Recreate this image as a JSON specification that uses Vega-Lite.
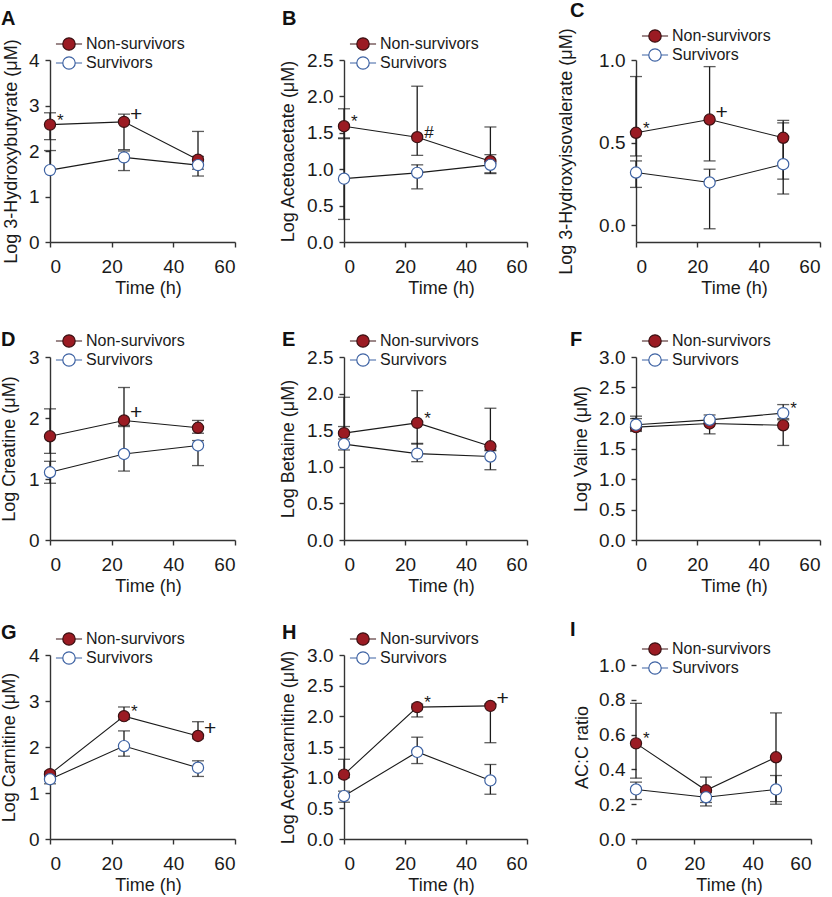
{
  "$schema": "https://vega.github.io/schema/vega-lite/v6.json",
  "padding": {"left": 0, "top": 0, "right": 5, "bottom": 5},
  "columns": 3,
  "spacing": {"row": 115, "column": 109},
  "bounds": "flush",
  "resolve": {"scale": {"fill": "independent", "stroke": "independent"}},
  "datasets": {
    "d": [
      {"p":"A","g":"Non-survivors","t":0,"v":2.58,"lo":2.25,"hi":2.84,"s":"*"},
      {"p":"A","g":"Non-survivors","t":24,"v":2.64,"lo":2.03,"hi":2.81,"s":"+"},
      {"p":"A","g":"Non-survivors","t":48,"v":1.81,"lo":1.60,"hi":2.43},
      {"p":"A","g":"Survivors","t":0,"v":1.58,"lo":1.58,"hi":2.01},
      {"p":"A","g":"Survivors","t":24,"v":1.86,"lo":1.57,"hi":2.00},
      {"p":"A","g":"Survivors","t":48,"v":1.69,"lo":1.45,"hi":1.88},
      {"p":"B","g":"Non-survivors","t":0,"v":1.59,"lo":1.43,"hi":1.83,"s":"*"},
      {"p":"B","g":"Non-survivors","t":24,"v":1.44,"lo":1.19,"hi":2.14,"s":"#"},
      {"p":"B","g":"Non-survivors","t":48,"v":1.11,"lo":0.94,"hi":1.58},
      {"p":"B","g":"Survivors","t":0,"v":0.87,"lo":0.31,"hi":1.42},
      {"p":"B","g":"Survivors","t":24,"v":0.95,"lo":0.73,"hi":1.06},
      {"p":"B","g":"Survivors","t":48,"v":1.06,"lo":0.95,"hi":1.20},
      {"p":"C","g":"Non-survivors","t":0,"v":0.56,"lo":0.42,"hi":0.90,"s":"*"},
      {"p":"C","g":"Non-survivors","t":24,"v":0.64,"lo":0.39,"hi":0.96,"s":"+"},
      {"p":"C","g":"Non-survivors","t":48,"v":0.53,"lo":0.28,"hi":0.635},
      {"p":"C","g":"Survivors","t":0,"v":0.32,"lo":0.23,"hi":0.39},
      {"p":"C","g":"Survivors","t":24,"v":0.26,"lo":-0.02,"hi":0.34},
      {"p":"C","g":"Survivors","t":48,"v":0.37,"lo":0.19,"hi":0.62},
      {"p":"D","g":"Non-survivors","t":0,"v":1.70,"lo":1.42,"hi":2.15},
      {"p":"D","g":"Non-survivors","t":24,"v":1.96,"lo":1.86,"hi":2.50,"s":"+"},
      {"p":"D","g":"Non-survivors","t":48,"v":1.84,"lo":1.75,"hi":1.96},
      {"p":"D","g":"Survivors","t":0,"v":1.11,"lo":0.93,"hi":1.29},
      {"p":"D","g":"Survivors","t":24,"v":1.41,"lo":1.13,"hi":1.88},
      {"p":"D","g":"Survivors","t":48,"v":1.55,"lo":1.22,"hi":1.63},
      {"p":"E","g":"Non-survivors","t":0,"v":1.46,"lo":1.38,"hi":1.95},
      {"p":"E","g":"Non-survivors","t":24,"v":1.60,"lo":1.31,"hi":2.04,"s":"*"},
      {"p":"E","g":"Non-survivors","t":48,"v":1.28,"lo":1.22,"hi":1.80},
      {"p":"E","g":"Survivors","t":0,"v":1.31,"lo":1.23,"hi":1.55},
      {"p":"E","g":"Survivors","t":24,"v":1.18,"lo":1.07,"hi":1.32},
      {"p":"E","g":"Survivors","t":48,"v":1.14,"lo":0.96,"hi":1.23},
      {"p":"F","g":"Non-survivors","t":0,"v":1.85,"lo":1.78,"hi":1.99},
      {"p":"F","g":"Non-survivors","t":24,"v":1.91,"lo":1.74,"hi":1.97},
      {"p":"F","g":"Non-survivors","t":48,"v":1.88,"lo":1.55,"hi":1.97},
      {"p":"F","g":"Survivors","t":0,"v":1.89,"lo":1.80,"hi":2.03},
      {"p":"F","g":"Survivors","t":24,"v":1.97,"lo":1.90,"hi":2.05},
      {"p":"F","g":"Survivors","t":48,"v":2.08,"lo":1.99,"hi":2.22,"s":"*"},
      {"p":"G","g":"Non-survivors","t":0,"v":1.41,"lo":1.35,"hi":1.47},
      {"p":"G","g":"Non-survivors","t":24,"v":2.67,"lo":2.60,"hi":2.87,"s":"*"},
      {"p":"G","g":"Non-survivors","t":48,"v":2.24,"lo":2.18,"hi":2.55,"s":"+"},
      {"p":"G","g":"Survivors","t":0,"v":1.30,"lo":1.20,"hi":1.36},
      {"p":"G","g":"Survivors","t":24,"v":2.02,"lo":1.80,"hi":2.35},
      {"p":"G","g":"Survivors","t":48,"v":1.55,"lo":1.36,"hi":1.70},
      {"p":"H","g":"Non-survivors","t":0,"v":1.05,"lo":1.00,"hi":1.30},
      {"p":"H","g":"Non-survivors","t":24,"v":2.15,"lo":1.99,"hi":2.20,"s":"*"},
      {"p":"H","g":"Non-survivors","t":48,"v":2.17,"lo":1.57,"hi":2.20,"s":"+"},
      {"p":"H","g":"Survivors","t":0,"v":0.70,"lo":0.60,"hi":0.78},
      {"p":"H","g":"Survivors","t":24,"v":1.42,"lo":1.23,"hi":1.66},
      {"p":"H","g":"Survivors","t":48,"v":0.955,"lo":0.73,"hi":1.215},
      {"p":"I","g":"Non-survivors","t":0,"v":0.55,"lo":0.35,"hi":0.78,"s":"*"},
      {"p":"I","g":"Non-survivors","t":24,"v":0.28,"lo":0.21,"hi":0.356},
      {"p":"I","g":"Non-survivors","t":48,"v":0.47,"lo":0.20,"hi":0.725},
      {"p":"I","g":"Survivors","t":0,"v":0.285,"lo":0.227,"hi":0.327},
      {"p":"I","g":"Survivors","t":24,"v":0.24,"lo":0.19,"hi":0.27},
      {"p":"I","g":"Survivors","t":48,"v":0.285,"lo":0.215,"hi":0.365}
    ]
  },
  "concat": [
    {
      "width": 185, "height": 182,
      "title": {"text": "A", "dx": -49, "dy": -1.5},
      "data": {"name": "d"},
      "transform": [{"filter": "datum.p == 'A'"}],
      "encoding": {
        "x": {"field": "t", "type": "quantitative", "scale": {"domain": [0, 60], "nice": false, "padding": 0}, "axis": {"values": [0, 20, 40, 60], "labelOverlap": false, "title": "Time (h)", "titleX": 98}},
        "y": {"field": "v", "type": "quantitative", "scale": {"domain": [0, 4], "nice": false, "zero": false, "padding": 0}, "axis": {"values": [0, 1, 2, 3, 4], "labelOverlap": false, "format": "d", "title": "Log 3-Hydroxybutyrate (μM)", "titleX": -30}}
      },
      "layer": [
        {"mark": {"type": "rule", "color": "#1a1a1a", "strokeWidth": 1.3}, "encoding": {"y": {"field": "lo", "type": "quantitative", "axis": {"values": [0, 1, 2, 3, 4], "labelOverlap": false, "format": "d", "title": "Log 3-Hydroxybutyrate (μM)", "titleX": -30}}, "y2": {"field": "hi"}}},
        {"mark": {"type": "tick", "orient": "horizontal", "size": 12, "thickness": 1.3, "color": "#1a1a1a"}, "encoding": {"y": {"field": "lo", "type": "quantitative", "axis": {"values": [0, 1, 2, 3, 4], "labelOverlap": false, "format": "d", "title": "Log 3-Hydroxybutyrate (μM)", "titleX": -30}}}},
        {"mark": {"type": "tick", "orient": "horizontal", "size": 12, "thickness": 1.3, "color": "#1a1a1a"}, "encoding": {"y": {"field": "hi", "type": "quantitative", "axis": {"values": [0, 1, 2, 3, 4], "labelOverlap": false, "format": "d", "title": "Log 3-Hydroxybutyrate (μM)", "titleX": -30}}}},
        {"mark": {"type": "line", "color": "#1a1a1a", "strokeWidth": 1.1}, "encoding": {"detail": {"field": "g"}}},
        {"mark": {"type": "point", "filled": true, "size": 125, "strokeWidth": 1.2, "opacity": 1}, "encoding": {
          "fill": {"field": "g", "type": "nominal", "scale": {"domain": ["Non-survivors", "Survivors"], "range": ["#9b1b23", "#ffffff"]}, "legend": {"orient": "none", "legendX": 9, "legendY": -26, "title": null, "symbolType": "M-1.45,0H-0.69M0.69,0H1.45M-0.69,0A0.69,0.69,0,1,0,0.69,0A0.69,0.69,0,1,0,-0.69,0Z", "symbolSize": 324}},
          "stroke": {"field": "g", "type": "nominal", "scale": {"domain": ["Non-survivors", "Survivors"], "range": ["#3b1214", "#3d62a3"]}, "legend": {"orient": "none", "legendX": 9, "legendY": -26, "title": null, "symbolType": "M-1.45,0H-0.69M0.69,0H1.45M-0.69,0A0.69,0.69,0,1,0,0.69,0A0.69,0.69,0,1,0,-0.69,0Z", "symbolSize": 324}}}},
        {"transform": [{"filter": "datum.s == '*'"}], "mark": {"type": "text", "align": "left", "baseline": "middle", "dx": 7, "dy": -4, "fontSize": 17, "fill": "#1a1a1a"}, "encoding": {"text": {"field": "s"}}},
        {"transform": [{"filter": "datum.s == '+'"}], "mark": {"type": "text", "align": "left", "baseline": "middle", "dx": 6, "dy": -7, "fontSize": 21, "fill": "#1a1a1a"}, "encoding": {"text": {"field": "s"}}}
      ]
    },
    {
      "width": 183, "height": 182,
      "title": {"text": "B", "dx": -62, "dy": -1.5},
      "data": {"name": "d"},
      "transform": [{"filter": "datum.p == 'B'"}],
      "encoding": {
        "x": {"field": "t", "type": "quantitative", "scale": {"domain": [0, 60], "nice": false, "padding": 0}, "axis": {"values": [0, 20, 40, 60], "labelOverlap": false, "title": "Time (h)", "titleX": 97}},
        "y": {"field": "v", "type": "quantitative", "scale": {"domain": [0, 2.5], "nice": false, "zero": false, "padding": 0}, "axis": {"values": [0, 0.5, 1, 1.5, 2, 2.5], "labelOverlap": false, "format": ".1f", "title": "Log Acetoacetate (μM)", "titleX": -47}}
      },
      "layer": [
        {"mark": {"type": "rule", "color": "#1a1a1a", "strokeWidth": 1.3}, "encoding": {"y": {"field": "lo", "type": "quantitative", "axis": {"values": [0, 0.5, 1, 1.5, 2, 2.5], "labelOverlap": false, "format": ".1f", "title": "Log Acetoacetate (μM)", "titleX": -47}}, "y2": {"field": "hi"}}},
        {"mark": {"type": "tick", "orient": "horizontal", "size": 12, "thickness": 1.3, "color": "#1a1a1a"}, "encoding": {"y": {"field": "lo", "type": "quantitative", "axis": {"values": [0, 0.5, 1, 1.5, 2, 2.5], "labelOverlap": false, "format": ".1f", "title": "Log Acetoacetate (μM)", "titleX": -47}}}},
        {"mark": {"type": "tick", "orient": "horizontal", "size": 12, "thickness": 1.3, "color": "#1a1a1a"}, "encoding": {"y": {"field": "hi", "type": "quantitative", "axis": {"values": [0, 0.5, 1, 1.5, 2, 2.5], "labelOverlap": false, "format": ".1f", "title": "Log Acetoacetate (μM)", "titleX": -47}}}},
        {"mark": {"type": "line", "color": "#1a1a1a", "strokeWidth": 1.1}, "encoding": {"detail": {"field": "g"}}},
        {"mark": {"type": "point", "filled": true, "size": 125, "strokeWidth": 1.2, "opacity": 1}, "encoding": {
          "fill": {"field": "g", "type": "nominal", "scale": {"domain": ["Non-survivors", "Survivors"], "range": ["#9b1b23", "#ffffff"]}, "legend": {"orient": "none", "legendX": 9, "legendY": -26, "title": null, "symbolType": "M-1.45,0H-0.69M0.69,0H1.45M-0.69,0A0.69,0.69,0,1,0,0.69,0A0.69,0.69,0,1,0,-0.69,0Z", "symbolSize": 324}},
          "stroke": {"field": "g", "type": "nominal", "scale": {"domain": ["Non-survivors", "Survivors"], "range": ["#3b1214", "#3d62a3"]}, "legend": {"orient": "none", "legendX": 9, "legendY": -26, "title": null, "symbolType": "M-1.45,0H-0.69M0.69,0H1.45M-0.69,0A0.69,0.69,0,1,0,0.69,0A0.69,0.69,0,1,0,-0.69,0Z", "symbolSize": 324}}}},
        {"transform": [{"filter": "datum.s == '*' || datum.s == '#'"}], "mark": {"type": "text", "align": "left", "baseline": "middle", "dx": 7, "dy": -4, "fontSize": 17, "fill": "#1a1a1a"}, "encoding": {"text": {"field": "s"}}},
        {"transform": [{"filter": "datum.s == '+'"}], "mark": {"type": "text", "align": "left", "baseline": "middle", "dx": 6, "dy": -7, "fontSize": 21, "fill": "#1a1a1a"}, "encoding": {"text": {"field": "s"}}}
      ]
    },
    {
      "width": 184, "height": 182,
      "title": {"text": "C", "dx": -66, "dy": -1.5},
      "data": {"name": "d"},
      "transform": [{"filter": "datum.p == 'C'"}],
      "encoding": {
        "x": {"field": "t", "type": "quantitative", "scale": {"domain": [0, 60], "nice": false, "padding": 0}, "axis": {"values": [0, 20, 40, 60], "labelOverlap": false, "title": "Time (h)", "titleX": 98}},
        "y": {"field": "v", "type": "quantitative", "scale": {"domain": [-0.1, 1.0], "nice": false, "zero": false, "padding": 0}, "axis": {"values": [0, 0.5, 1], "labelOverlap": false, "format": ".1f", "title": "Log 3-Hydroxyisovalerate (μM)", "titleX": -61}}
      },
      "layer": [
        {"mark": {"type": "rule", "color": "#1a1a1a", "strokeWidth": 1.3}, "encoding": {"y": {"field": "lo", "type": "quantitative", "axis": {"values": [0, 0.5, 1], "labelOverlap": false, "format": ".1f", "title": "Log 3-Hydroxyisovalerate (μM)", "titleX": -61}}, "y2": {"field": "hi"}}},
        {"mark": {"type": "tick", "orient": "horizontal", "size": 12, "thickness": 1.3, "color": "#1a1a1a"}, "encoding": {"y": {"field": "lo", "type": "quantitative", "axis": {"values": [0, 0.5, 1], "labelOverlap": false, "format": ".1f", "title": "Log 3-Hydroxyisovalerate (μM)", "titleX": -61}}}},
        {"mark": {"type": "tick", "orient": "horizontal", "size": 12, "thickness": 1.3, "color": "#1a1a1a"}, "encoding": {"y": {"field": "hi", "type": "quantitative", "axis": {"values": [0, 0.5, 1], "labelOverlap": false, "format": ".1f", "title": "Log 3-Hydroxyisovalerate (μM)", "titleX": -61}}}},
        {"mark": {"type": "line", "color": "#1a1a1a", "strokeWidth": 1.1}, "encoding": {"detail": {"field": "g"}}},
        {"mark": {"type": "point", "filled": true, "size": 125, "strokeWidth": 1.2, "opacity": 1}, "encoding": {
          "fill": {"field": "g", "type": "nominal", "scale": {"domain": ["Non-survivors", "Survivors"], "range": ["#9b1b23", "#ffffff"]}, "legend": {"orient": "none", "legendX": 9, "legendY": -34, "title": null, "symbolType": "M-1.45,0H-0.69M0.69,0H1.45M-0.69,0A0.69,0.69,0,1,0,0.69,0A0.69,0.69,0,1,0,-0.69,0Z", "symbolSize": 324}},
          "stroke": {"field": "g", "type": "nominal", "scale": {"domain": ["Non-survivors", "Survivors"], "range": ["#3b1214", "#3d62a3"]}, "legend": {"orient": "none", "legendX": 9, "legendY": -34, "title": null, "symbolType": "M-1.45,0H-0.69M0.69,0H1.45M-0.69,0A0.69,0.69,0,1,0,0.69,0A0.69,0.69,0,1,0,-0.69,0Z", "symbolSize": 324}}}},
        {"transform": [{"filter": "datum.s == '*'"}], "mark": {"type": "text", "align": "left", "baseline": "middle", "dx": 7, "dy": -4, "fontSize": 17, "fill": "#1a1a1a"}, "encoding": {"text": {"field": "s"}}},
        {"transform": [{"filter": "datum.s == '+'"}], "mark": {"type": "text", "align": "left", "baseline": "middle", "dx": 6, "dy": -7, "fontSize": 21, "fill": "#1a1a1a"}, "encoding": {"text": {"field": "s"}}}
      ]
    },
    {
      "width": 185, "height": 183,
      "title": {"text": "D", "dx": -49, "dy": 22.5},
      "data": {"name": "d"},
      "transform": [{"filter": "datum.p == 'D'"}],
      "encoding": {
        "x": {"field": "t", "type": "quantitative", "scale": {"domain": [0, 60], "nice": false, "padding": 0}, "axis": {"values": [0, 20, 40, 60], "labelOverlap": false, "title": "Time (h)", "titleX": 98}},
        "y": {"field": "v", "type": "quantitative", "scale": {"domain": [0, 3], "nice": false, "zero": false, "padding": 0}, "axis": {"values": [0, 1, 2, 3], "labelOverlap": false, "format": "d", "title": "Log Creatine (μM)", "titleX": -32}}
      },
      "layer": [
        {"mark": {"type": "rule", "color": "#1a1a1a", "strokeWidth": 1.3}, "encoding": {"y": {"field": "lo", "type": "quantitative", "axis": {"values": [0, 1, 2, 3], "labelOverlap": false, "format": "d", "title": "Log Creatine (μM)", "titleX": -32}}, "y2": {"field": "hi"}}},
        {"mark": {"type": "tick", "orient": "horizontal", "size": 12, "thickness": 1.3, "color": "#1a1a1a"}, "encoding": {"y": {"field": "lo", "type": "quantitative", "axis": {"values": [0, 1, 2, 3], "labelOverlap": false, "format": "d", "title": "Log Creatine (μM)", "titleX": -32}}}},
        {"mark": {"type": "tick", "orient": "horizontal", "size": 12, "thickness": 1.3, "color": "#1a1a1a"}, "encoding": {"y": {"field": "hi", "type": "quantitative", "axis": {"values": [0, 1, 2, 3], "labelOverlap": false, "format": "d", "title": "Log Creatine (μM)", "titleX": -32}}}},
        {"mark": {"type": "line", "color": "#1a1a1a", "strokeWidth": 1.1}, "encoding": {"detail": {"field": "g"}}},
        {"mark": {"type": "point", "filled": true, "size": 125, "strokeWidth": 1.2, "opacity": 1}, "encoding": {
          "fill": {"field": "g", "type": "nominal", "scale": {"domain": ["Non-survivors", "Survivors"], "range": ["#9b1b23", "#ffffff"]}, "legend": {"orient": "none", "legendX": 9, "legendY": -26, "title": null, "symbolType": "M-1.45,0H-0.69M0.69,0H1.45M-0.69,0A0.69,0.69,0,1,0,0.69,0A0.69,0.69,0,1,0,-0.69,0Z", "symbolSize": 324}},
          "stroke": {"field": "g", "type": "nominal", "scale": {"domain": ["Non-survivors", "Survivors"], "range": ["#3b1214", "#3d62a3"]}, "legend": {"orient": "none", "legendX": 9, "legendY": -26, "title": null, "symbolType": "M-1.45,0H-0.69M0.69,0H1.45M-0.69,0A0.69,0.69,0,1,0,0.69,0A0.69,0.69,0,1,0,-0.69,0Z", "symbolSize": 324}}}},
        {"transform": [{"filter": "datum.s == '*'"}], "mark": {"type": "text", "align": "left", "baseline": "middle", "dx": 7, "dy": -4, "fontSize": 17, "fill": "#1a1a1a"}, "encoding": {"text": {"field": "s"}}},
        {"transform": [{"filter": "datum.s == '+'"}], "mark": {"type": "text", "align": "left", "baseline": "middle", "dx": 6, "dy": -7, "fontSize": 21, "fill": "#1a1a1a"}, "encoding": {"text": {"field": "s"}}}
      ]
    },
    {
      "width": 183, "height": 183,
      "title": {"text": "E", "dx": -62, "dy": 22.5},
      "data": {"name": "d"},
      "transform": [{"filter": "datum.p == 'E'"}],
      "encoding": {
        "x": {"field": "t", "type": "quantitative", "scale": {"domain": [0, 60], "nice": false, "padding": 0}, "axis": {"values": [0, 20, 40, 60], "labelOverlap": false, "title": "Time (h)", "titleX": 97}},
        "y": {"field": "v", "type": "quantitative", "scale": {"domain": [0, 2.5], "nice": false, "zero": false, "padding": 0}, "axis": {"values": [0, 0.5, 1, 1.5, 2, 2.5], "labelOverlap": false, "format": ".1f", "title": "Log Betaine (μM)", "titleX": -47}}
      },
      "layer": [
        {"mark": {"type": "rule", "color": "#1a1a1a", "strokeWidth": 1.3}, "encoding": {"y": {"field": "lo", "type": "quantitative", "axis": {"values": [0, 0.5, 1, 1.5, 2, 2.5], "labelOverlap": false, "format": ".1f", "title": "Log Betaine (μM)", "titleX": -47}}, "y2": {"field": "hi"}}},
        {"mark": {"type": "tick", "orient": "horizontal", "size": 12, "thickness": 1.3, "color": "#1a1a1a"}, "encoding": {"y": {"field": "lo", "type": "quantitative", "axis": {"values": [0, 0.5, 1, 1.5, 2, 2.5], "labelOverlap": false, "format": ".1f", "title": "Log Betaine (μM)", "titleX": -47}}}},
        {"mark": {"type": "tick", "orient": "horizontal", "size": 12, "thickness": 1.3, "color": "#1a1a1a"}, "encoding": {"y": {"field": "hi", "type": "quantitative", "axis": {"values": [0, 0.5, 1, 1.5, 2, 2.5], "labelOverlap": false, "format": ".1f", "title": "Log Betaine (μM)", "titleX": -47}}}},
        {"mark": {"type": "line", "color": "#1a1a1a", "strokeWidth": 1.1}, "encoding": {"detail": {"field": "g"}}},
        {"mark": {"type": "point", "filled": true, "size": 125, "strokeWidth": 1.2, "opacity": 1}, "encoding": {
          "fill": {"field": "g", "type": "nominal", "scale": {"domain": ["Non-survivors", "Survivors"], "range": ["#9b1b23", "#ffffff"]}, "legend": {"orient": "none", "legendX": 9, "legendY": -26, "title": null, "symbolType": "M-1.45,0H-0.69M0.69,0H1.45M-0.69,0A0.69,0.69,0,1,0,0.69,0A0.69,0.69,0,1,0,-0.69,0Z", "symbolSize": 324}},
          "stroke": {"field": "g", "type": "nominal", "scale": {"domain": ["Non-survivors", "Survivors"], "range": ["#3b1214", "#3d62a3"]}, "legend": {"orient": "none", "legendX": 9, "legendY": -26, "title": null, "symbolType": "M-1.45,0H-0.69M0.69,0H1.45M-0.69,0A0.69,0.69,0,1,0,0.69,0A0.69,0.69,0,1,0,-0.69,0Z", "symbolSize": 324}}}},
        {"transform": [{"filter": "datum.s == '*'"}], "mark": {"type": "text", "align": "left", "baseline": "middle", "dx": 7, "dy": -4, "fontSize": 17, "fill": "#1a1a1a"}, "encoding": {"text": {"field": "s"}}},
        {"transform": [{"filter": "datum.s == '+'"}], "mark": {"type": "text", "align": "left", "baseline": "middle", "dx": 6, "dy": -7, "fontSize": 21, "fill": "#1a1a1a"}, "encoding": {"text": {"field": "s"}}}
      ]
    },
    {
      "width": 184, "height": 183,
      "title": {"text": "F", "dx": -66, "dy": 22.5},
      "data": {"name": "d"},
      "transform": [{"filter": "datum.p == 'F'"}],
      "encoding": {
        "x": {"field": "t", "type": "quantitative", "scale": {"domain": [0, 60], "nice": false, "padding": 0}, "axis": {"values": [0, 20, 40, 60], "labelOverlap": false, "title": "Time (h)", "titleX": 98}},
        "y": {"field": "v", "type": "quantitative", "scale": {"domain": [0, 3], "nice": false, "zero": false, "padding": 0}, "axis": {"values": [0, 0.5, 1, 1.5, 2, 2.5, 3], "labelOverlap": false, "format": ".1f", "title": "Log Valine (μM)", "titleX": -46}}
      },
      "layer": [
        {"mark": {"type": "rule", "color": "#1a1a1a", "strokeWidth": 1.3}, "encoding": {"y": {"field": "lo", "type": "quantitative", "axis": {"values": [0, 0.5, 1, 1.5, 2, 2.5, 3], "labelOverlap": false, "format": ".1f", "title": "Log Valine (μM)", "titleX": -46}}, "y2": {"field": "hi"}}},
        {"mark": {"type": "tick", "orient": "horizontal", "size": 12, "thickness": 1.3, "color": "#1a1a1a"}, "encoding": {"y": {"field": "lo", "type": "quantitative", "axis": {"values": [0, 0.5, 1, 1.5, 2, 2.5, 3], "labelOverlap": false, "format": ".1f", "title": "Log Valine (μM)", "titleX": -46}}}},
        {"mark": {"type": "tick", "orient": "horizontal", "size": 12, "thickness": 1.3, "color": "#1a1a1a"}, "encoding": {"y": {"field": "hi", "type": "quantitative", "axis": {"values": [0, 0.5, 1, 1.5, 2, 2.5, 3], "labelOverlap": false, "format": ".1f", "title": "Log Valine (μM)", "titleX": -46}}}},
        {"mark": {"type": "line", "color": "#1a1a1a", "strokeWidth": 1.1}, "encoding": {"detail": {"field": "g"}}},
        {"mark": {"type": "point", "filled": true, "size": 125, "strokeWidth": 1.2, "opacity": 1}, "encoding": {
          "fill": {"field": "g", "type": "nominal", "scale": {"domain": ["Non-survivors", "Survivors"], "range": ["#9b1b23", "#ffffff"]}, "legend": {"orient": "none", "legendX": 9, "legendY": -26, "title": null, "symbolType": "M-1.45,0H-0.69M0.69,0H1.45M-0.69,0A0.69,0.69,0,1,0,0.69,0A0.69,0.69,0,1,0,-0.69,0Z", "symbolSize": 324}},
          "stroke": {"field": "g", "type": "nominal", "scale": {"domain": ["Non-survivors", "Survivors"], "range": ["#3b1214", "#3d62a3"]}, "legend": {"orient": "none", "legendX": 9, "legendY": -26, "title": null, "symbolType": "M-1.45,0H-0.69M0.69,0H1.45M-0.69,0A0.69,0.69,0,1,0,0.69,0A0.69,0.69,0,1,0,-0.69,0Z", "symbolSize": 324}}}},
        {"transform": [{"filter": "datum.s == '*'"}], "mark": {"type": "text", "align": "left", "baseline": "middle", "dx": 7, "dy": -4, "fontSize": 17, "fill": "#1a1a1a"}, "encoding": {"text": {"field": "s"}}},
        {"transform": [{"filter": "datum.s == '+'"}], "mark": {"type": "text", "align": "left", "baseline": "middle", "dx": 6, "dy": -7, "fontSize": 21, "fill": "#1a1a1a"}, "encoding": {"text": {"field": "s"}}}
      ]
    },
    {
      "width": 185, "height": 184,
      "title": {"text": "G", "dx": -49, "dy": 18},
      "data": {"name": "d"},
      "transform": [{"filter": "datum.p == 'G'"}],
      "encoding": {
        "x": {"field": "t", "type": "quantitative", "scale": {"domain": [0, 60], "nice": false, "padding": 0}, "axis": {"values": [0, 20, 40, 60], "labelOverlap": false, "title": "Time (h)", "titleX": 98}},
        "y": {"field": "v", "type": "quantitative", "scale": {"domain": [0, 4], "nice": false, "zero": false, "padding": 0}, "axis": {"values": [0, 1, 2, 3, 4], "labelOverlap": false, "format": "d", "title": "Log Carnitine (μM)", "titleX": -32}}
      },
      "layer": [
        {"mark": {"type": "rule", "color": "#1a1a1a", "strokeWidth": 1.3}, "encoding": {"y": {"field": "lo", "type": "quantitative", "axis": {"values": [0, 1, 2, 3, 4], "labelOverlap": false, "format": "d", "title": "Log Carnitine (μM)", "titleX": -32}}, "y2": {"field": "hi"}}},
        {"mark": {"type": "tick", "orient": "horizontal", "size": 12, "thickness": 1.3, "color": "#1a1a1a"}, "encoding": {"y": {"field": "lo", "type": "quantitative", "axis": {"values": [0, 1, 2, 3, 4], "labelOverlap": false, "format": "d", "title": "Log Carnitine (μM)", "titleX": -32}}}},
        {"mark": {"type": "tick", "orient": "horizontal", "size": 12, "thickness": 1.3, "color": "#1a1a1a"}, "encoding": {"y": {"field": "hi", "type": "quantitative", "axis": {"values": [0, 1, 2, 3, 4], "labelOverlap": false, "format": "d", "title": "Log Carnitine (μM)", "titleX": -32}}}},
        {"mark": {"type": "line", "color": "#1a1a1a", "strokeWidth": 1.1}, "encoding": {"detail": {"field": "g"}}},
        {"mark": {"type": "point", "filled": true, "size": 125, "strokeWidth": 1.2, "opacity": 1}, "encoding": {
          "fill": {"field": "g", "type": "nominal", "scale": {"domain": ["Non-survivors", "Survivors"], "range": ["#9b1b23", "#ffffff"]}, "legend": {"orient": "none", "legendX": 9, "legendY": -26, "title": null, "symbolType": "M-1.45,0H-0.69M0.69,0H1.45M-0.69,0A0.69,0.69,0,1,0,0.69,0A0.69,0.69,0,1,0,-0.69,0Z", "symbolSize": 324}},
          "stroke": {"field": "g", "type": "nominal", "scale": {"domain": ["Non-survivors", "Survivors"], "range": ["#3b1214", "#3d62a3"]}, "legend": {"orient": "none", "legendX": 9, "legendY": -26, "title": null, "symbolType": "M-1.45,0H-0.69M0.69,0H1.45M-0.69,0A0.69,0.69,0,1,0,0.69,0A0.69,0.69,0,1,0,-0.69,0Z", "symbolSize": 324}}}},
        {"transform": [{"filter": "datum.s == '*'"}], "mark": {"type": "text", "align": "left", "baseline": "middle", "dx": 7, "dy": -4, "fontSize": 17, "fill": "#1a1a1a"}, "encoding": {"text": {"field": "s"}}},
        {"transform": [{"filter": "datum.s == '+'"}], "mark": {"type": "text", "align": "left", "baseline": "middle", "dx": 6, "dy": -7, "fontSize": 21, "fill": "#1a1a1a"}, "encoding": {"text": {"field": "s"}}}
      ]
    },
    {
      "width": 183, "height": 184,
      "title": {"text": "H", "dx": -62, "dy": 18},
      "data": {"name": "d"},
      "transform": [{"filter": "datum.p == 'H'"}],
      "encoding": {
        "x": {"field": "t", "type": "quantitative", "scale": {"domain": [0, 60], "nice": false, "padding": 0}, "axis": {"values": [0, 20, 40, 60], "labelOverlap": false, "title": "Time (h)", "titleX": 97}},
        "y": {"field": "v", "type": "quantitative", "scale": {"domain": [0, 3], "nice": false, "zero": false, "padding": 0}, "axis": {"values": [0, 0.5, 1, 1.5, 2, 2.5, 3], "labelOverlap": false, "format": ".1f", "title": "Log Acetylcarnitine (μM)", "titleX": -47}}
      },
      "layer": [
        {"mark": {"type": "rule", "color": "#1a1a1a", "strokeWidth": 1.3}, "encoding": {"y": {"field": "lo", "type": "quantitative", "axis": {"values": [0, 0.5, 1, 1.5, 2, 2.5, 3], "labelOverlap": false, "format": ".1f", "title": "Log Acetylcarnitine (μM)", "titleX": -47}}, "y2": {"field": "hi"}}},
        {"mark": {"type": "tick", "orient": "horizontal", "size": 12, "thickness": 1.3, "color": "#1a1a1a"}, "encoding": {"y": {"field": "lo", "type": "quantitative", "axis": {"values": [0, 0.5, 1, 1.5, 2, 2.5, 3], "labelOverlap": false, "format": ".1f", "title": "Log Acetylcarnitine (μM)", "titleX": -47}}}},
        {"mark": {"type": "tick", "orient": "horizontal", "size": 12, "thickness": 1.3, "color": "#1a1a1a"}, "encoding": {"y": {"field": "hi", "type": "quantitative", "axis": {"values": [0, 0.5, 1, 1.5, 2, 2.5, 3], "labelOverlap": false, "format": ".1f", "title": "Log Acetylcarnitine (μM)", "titleX": -47}}}},
        {"mark": {"type": "line", "color": "#1a1a1a", "strokeWidth": 1.1}, "encoding": {"detail": {"field": "g"}}},
        {"mark": {"type": "point", "filled": true, "size": 125, "strokeWidth": 1.2, "opacity": 1}, "encoding": {
          "fill": {"field": "g", "type": "nominal", "scale": {"domain": ["Non-survivors", "Survivors"], "range": ["#9b1b23", "#ffffff"]}, "legend": {"orient": "none", "legendX": 9, "legendY": -26, "title": null, "symbolType": "M-1.45,0H-0.69M0.69,0H1.45M-0.69,0A0.69,0.69,0,1,0,0.69,0A0.69,0.69,0,1,0,-0.69,0Z", "symbolSize": 324}},
          "stroke": {"field": "g", "type": "nominal", "scale": {"domain": ["Non-survivors", "Survivors"], "range": ["#3b1214", "#3d62a3"]}, "legend": {"orient": "none", "legendX": 9, "legendY": -26, "title": null, "symbolType": "M-1.45,0H-0.69M0.69,0H1.45M-0.69,0A0.69,0.69,0,1,0,0.69,0A0.69,0.69,0,1,0,-0.69,0Z", "symbolSize": 324}}}},
        {"transform": [{"filter": "datum.s == '*'"}], "mark": {"type": "text", "align": "left", "baseline": "middle", "dx": 7, "dy": -4, "fontSize": 17, "fill": "#1a1a1a"}, "encoding": {"text": {"field": "s"}}},
        {"transform": [{"filter": "datum.s == '+'"}], "mark": {"type": "text", "align": "left", "baseline": "middle", "dx": 6, "dy": -7, "fontSize": 21, "fill": "#1a1a1a"}, "encoding": {"text": {"field": "s"}}}
      ]
    },
    {
      "width": 175, "height": 184,
      "title": {"text": "I", "dx": -66, "dy": 5},
      "data": {"name": "d"},
      "transform": [{"filter": "datum.p == 'I'"}],
      "encoding": {
        "x": {"field": "t", "type": "quantitative", "scale": {"domain": [0, 60], "nice": false, "padding": 0}, "axis": {"values": [0, 20, 40, 60], "labelOverlap": false, "title": "Time (h)", "titleX": 93}},
        "y": {"field": "v", "type": "quantitative", "scale": {"domain": [0, 1.058], "nice": false, "zero": false, "padding": 0}, "axis": {"values": [0, 0.2, 0.4, 0.6, 0.8, 1], "labelOverlap": false, "format": ".1f", "title": "AC:C ratio", "titleX": -45, "domain": false}}
      },
      "layer": [
        {"mark": {"type": "rule", "color": "#1a1a1a", "strokeWidth": 1.3}, "encoding": {"y": {"field": "lo", "type": "quantitative", "axis": {"values": [0, 0.2, 0.4, 0.6, 0.8, 1], "labelOverlap": false, "format": ".1f", "title": "AC:C ratio", "titleX": -45, "domain": false}}, "y2": {"field": "hi"}}},
        {"data": {"values": [{"p": "I", "y0": 0, "y1": 1}]}, "mark": {"type": "rule", "color": "#333333", "strokeWidth": 1.4}, "encoding": {"x": {"datum": 0}, "y": {"field": "y0", "type": "quantitative", "axis": {"values": [0, 0.2, 0.4, 0.6, 0.8, 1], "labelOverlap": false, "format": ".1f", "title": "AC:C ratio", "titleX": -45, "domain": false}}, "y2": {"field": "y1"}}},
        {"mark": {"type": "tick", "orient": "horizontal", "size": 12, "thickness": 1.3, "color": "#1a1a1a"}, "encoding": {"y": {"field": "lo", "type": "quantitative", "axis": {"values": [0, 0.2, 0.4, 0.6, 0.8, 1], "labelOverlap": false, "format": ".1f", "title": "AC:C ratio", "titleX": -45, "domain": false}}}},
        {"mark": {"type": "tick", "orient": "horizontal", "size": 12, "thickness": 1.3, "color": "#1a1a1a"}, "encoding": {"y": {"field": "hi", "type": "quantitative", "axis": {"values": [0, 0.2, 0.4, 0.6, 0.8, 1], "labelOverlap": false, "format": ".1f", "title": "AC:C ratio", "titleX": -45, "domain": false}}}},
        {"mark": {"type": "line", "color": "#1a1a1a", "strokeWidth": 1.1}, "encoding": {"detail": {"field": "g"}}},
        {"mark": {"type": "point", "filled": true, "size": 125, "strokeWidth": 1.2, "opacity": 1}, "encoding": {
          "fill": {"field": "g", "type": "nominal", "scale": {"domain": ["Non-survivors", "Survivors"], "range": ["#9b1b23", "#ffffff"]}, "legend": {"orient": "none", "legendX": 9, "legendY": -16, "title": null, "symbolType": "M-1.45,0H-0.69M0.69,0H1.45M-0.69,0A0.69,0.69,0,1,0,0.69,0A0.69,0.69,0,1,0,-0.69,0Z", "symbolSize": 324}},
          "stroke": {"field": "g", "type": "nominal", "scale": {"domain": ["Non-survivors", "Survivors"], "range": ["#3b1214", "#3d62a3"]}, "legend": {"orient": "none", "legendX": 9, "legendY": -16, "title": null, "symbolType": "M-1.45,0H-0.69M0.69,0H1.45M-0.69,0A0.69,0.69,0,1,0,0.69,0A0.69,0.69,0,1,0,-0.69,0Z", "symbolSize": 324}}}},
        {"transform": [{"filter": "datum.s == '*'"}], "mark": {"type": "text", "align": "left", "baseline": "middle", "dx": 7, "dy": -4, "fontSize": 17, "fill": "#1a1a1a"}, "encoding": {"text": {"field": "s"}}},
        {"transform": [{"filter": "datum.s == '+'"}], "mark": {"type": "text", "align": "left", "baseline": "middle", "dx": 6, "dy": -7, "fontSize": 21, "fill": "#1a1a1a"}, "encoding": {"text": {"field": "s"}}}
      ]
    }
  ],
  "config": {
    "font": "Liberation Sans",
    "view": {"stroke": null},
    "scale": {"continuousPadding": 0},
    "axis": {"labelFont": "Liberation Sans", "labelFontSize": 19, "labelColor": "#1a1a1a", "labelOverlap": false, "titleFont": "Liberation Sans", "titleFontSize": 18, "titleFontWeight": "normal", "titleColor": "#1a1a1a", "domainColor": "#333333", "domainWidth": 1.4, "tickColor": "#333333", "tickWidth": 1.4, "tickSize": 5, "grid": false},
    "axisX": {"labelPadding": 10, "titlePadding": 3},
    "axisY": {"labelPadding": 6, "labelOverlap": false},
    "legend": {"labelFont": "Liberation Sans", "labelFontSize": 16, "labelColor": "#1a1a1a", "symbolStrokeWidth": 1.2, "rowPadding": 0, "padding": 0, "labelOffset": 7},
    "title": {"anchor": "start", "frame": "group", "fontSize": 20, "fontWeight": "bold", "font": "Liberation Sans", "color": "#111111", "offset": 0}
  }
}
